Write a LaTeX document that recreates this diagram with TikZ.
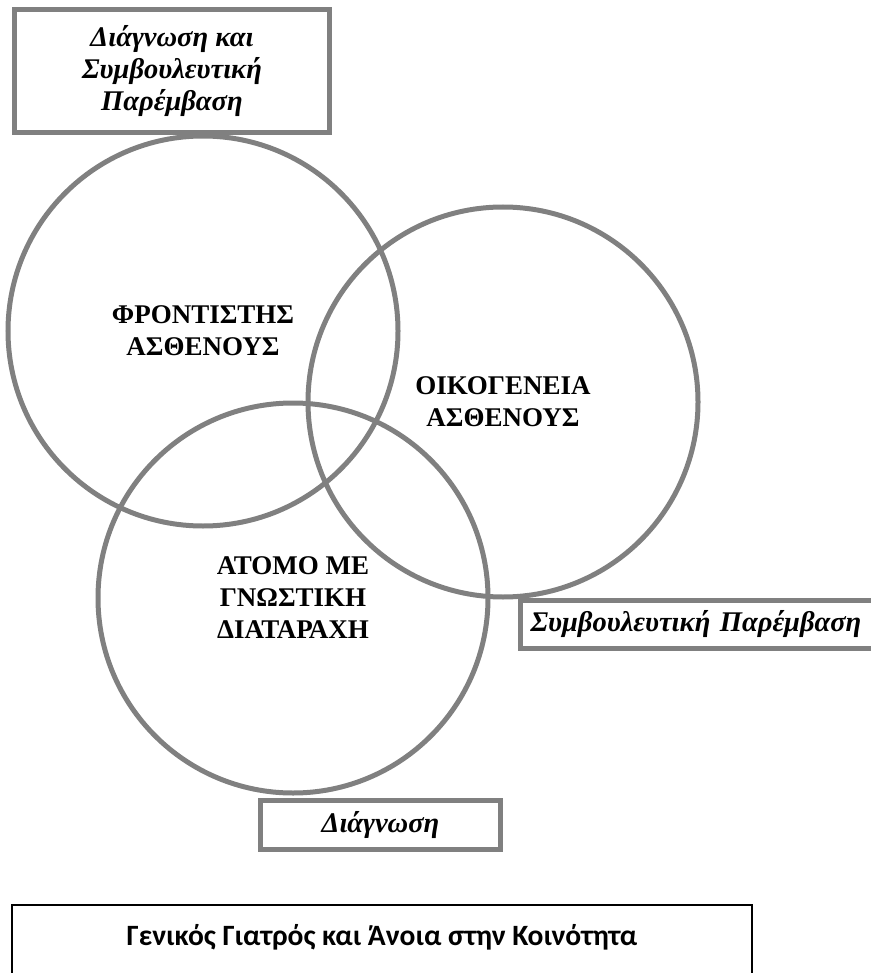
\documentclass[tikz,border=0pt]{standalone}
\usepackage{fontspec}
\setmainfont{Liberation Serif}
\newfontfamily\gpfont{Carlito}
\usepackage{tikz}
\definecolor{venngray}{RGB}{128,128,128}

\begin{document}
\begin{tikzpicture}[x=1pt,y=-1pt,
    venn node/.style={circle,draw=venngray,line width=5pt,minimum size=390pt,inner sep=0pt,align=center,font=\fontsize{27}{32}\selectfont\bfseries},
    tag node/.style={rectangle,draw=venngray,line width=5pt,fill=white,inner sep=0pt,align=center,font=\fontsize{28.5}{32}\selectfont\bfseries\itshape}]
    \useasboundingbox (0,0) rectangle (870,973);

    % the three circles
    \node[venn node] (carer) at (203,331) {ΦΡΟΝΤΙΣΤΗΣ\\ΑΣΘΕΝΟΥΣ};
    \node[venn node] (family) at (503,402) {ΟΙΚΟΓΕΝΕΙΑ\\ΑΣΘΕΝΟΥΣ};
    \node[venn node] (person) at (293,598) {ΑΤΟΜΟ ΜΕ\\ΓΝΩΣΤΙΚΗ\\ΔΙΑΤΑΡΑΧΗ};

    % the labels
    \node[tag node,minimum width=315pt,minimum height=123pt] (diagcounsel) at (172,71) {Διάγνωση και\\Συμβουλευτική\\Παρέμβαση};
    \node[tag node,anchor=west,text width=372pt,inner xsep=10.5pt,minimum height=48pt,align=left] (counsel) at (517.5,624.5) {Συμβουλευτική Παρέμβαση};
    \node[tag node,minimum width=240pt,minimum height=49pt] (diag) at (380.5,825) {Διάγνωση};

    \node[draw,line width=2pt,anchor=north,minimum width=740pt,text height=19pt,text depth=40pt,inner ysep=21pt,font=\gpfont\bfseries\fontsize{29.5}{34}\selectfont] (gp) at (382,904) {Γενικός Γιατρός και Άνοια στην Κοινότητα};
\end{tikzpicture}
\end{document}
